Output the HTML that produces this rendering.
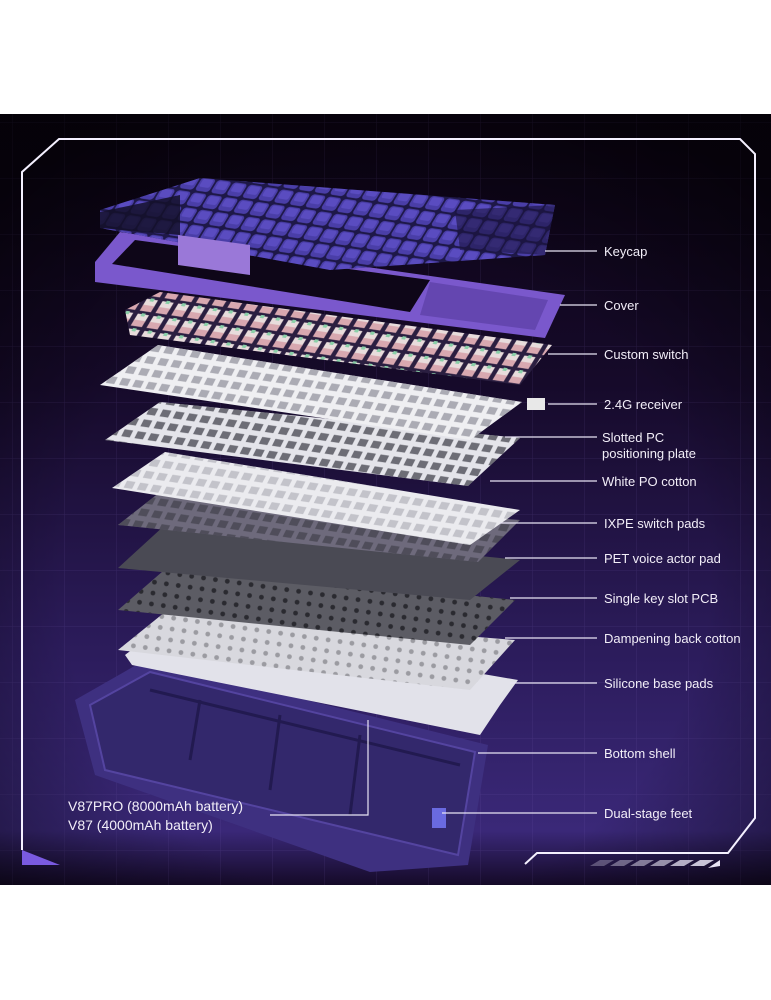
<!DOCTYPE html>
<html><head><meta charset="utf-8"><style>
html,body{margin:0;padding:0;background:#fff;width:771px;height:1000px;overflow:hidden}
svg{display:block}
text{font-family:"Liberation Sans",sans-serif;fill:#f2eef8;font-size:13px}
</style></head><body>
<svg width="771" height="1000" viewBox="0 0 771 1000">
<defs>
<linearGradient id="bg" x1="0" y1="0" x2="0" y2="1">
<stop offset="0" stop-color="#0b0312"/><stop offset="0.35" stop-color="#160a2a"/><stop offset="0.7" stop-color="#2c1c5c"/><stop offset="0.93" stop-color="#3a2878"/><stop offset="1" stop-color="#150a28"/>
</linearGradient>
<radialGradient id="vig" cx="0.5" cy="0.6" r="0.7">
<stop offset="0.6" stop-color="#000" stop-opacity="0"/><stop offset="1" stop-color="#000" stop-opacity="0.55"/>
</radialGradient>
<pattern id="grid" width="52" height="56" patternUnits="userSpaceOnUse" x="12" y="10">
<path d="M0 0H52M0 0V56" stroke="#8a70c8" stroke-opacity="0.18" stroke-width="1" fill="none"/>
</pattern>
<pattern id="holes" width="14" height="12" patternUnits="userSpaceOnUse" patternTransform="skewX(-20) rotate(8)">
<rect x="2" y="2" width="9" height="7" fill="#3a3a44"/>
</pattern>
<pattern id="holesw" width="14" height="12" patternUnits="userSpaceOnUse" patternTransform="skewX(-20) rotate(8)">
<rect x="2" y="2" width="9" height="7" fill="#9a9aa4"/>
</pattern>
<pattern id="dots" width="12" height="11" patternUnits="userSpaceOnUse" patternTransform="rotate(8)">
<circle cx="6" cy="5" r="2.4" fill="#2a2a30"/>
</pattern>
<pattern id="keys" width="17" height="15" patternUnits="userSpaceOnUse" patternTransform="skewX(-25) rotate(8)">
<rect x="1" y="1" width="15" height="13" rx="3" fill="#4a3ea8"/>
<rect x="3" y="2" width="11" height="8" rx="2" fill="#5a4cc0"/>
</pattern>
<pattern id="sw" width="17" height="15" patternUnits="userSpaceOnUse" patternTransform="skewX(-25) rotate(8)">
<rect x="2" y="1" width="12" height="7" fill="#e8dcdc"/>
<rect x="2" y="7" width="12" height="6" fill="#d8a8b0"/>
<rect x="6" y="0" width="4" height="3" fill="#8ad0a8"/>
</pattern>
</defs>
<rect x="0" y="114" width="771" height="771" fill="url(#bg)"/>
<rect x="0" y="114" width="771" height="771" fill="url(#grid)"/>
<rect x="0" y="114" width="771" height="771" fill="url(#vig)"/>
<path d="M22 850 V172 L59 139 H740 L755 154 V818 L728 853 H537 L525 864" fill="none" stroke="#f4f0ff" stroke-width="2"/>
<path d="M22 850 L22 865 L60 865 Z" fill="#7a5ae0"/>
<g fill="#e8e4f4">
<polygon points="590,866 600,860 614,860 604,866" opacity="0.3"/>
<polygon points="610,866 620,860 634,860 624,866" opacity="0.4"/>
<polygon points="630,866 640,860 654,860 644,866" opacity="0.5"/>
<polygon points="650,866 660,860 674,860 664,866" opacity="0.6"/>
<polygon points="670,866 680,860 694,860 684,866" opacity="0.75"/>
<polygon points="690,866 700,860 714,860 704,866" opacity="0.85"/>
<polygon points="708,868 720,860 720,860 720,866" opacity="1"/>
</g>
<!-- bottom shell -->
<polygon points="75,700 145,660 488,745 468,865 370,872 95,775" fill="#3e3080"/>
<polygon points="90,705 150,672 475,752 458,855 105,770" fill="#33286c" stroke="#5444a0" stroke-width="2"/>
<path d="M150 690 L460 765 M200 700 L190 760 M280 715 L270 790 M360 735 L350 815" stroke="#221a50" stroke-width="3" fill="none"/>
<rect x="432" y="808" width="14" height="20" fill="#6a6ae0"/>
<polygon points="125,655 170,620 518,680 500,705 480,735 132,665" fill="#e2e2ea"/>
<polygon points="118,650 165,612 515,640 470,690" fill="#d8d8de"/>
<polygon points="118,650 165,612 515,640 470,690" fill="url(#dots)" opacity="0.35"/>
<polygon points="118,610 170,565 515,600 470,645" fill="#5c5c64"/>
<polygon points="118,610 170,565 515,600 470,645" fill="url(#dots)"/>
<polygon points="118,568 165,525 520,560 470,600" fill="#4a4a54"/>
<polygon points="118,525 160,492 520,520 478,562" fill="#6e6a7c"/>
<polygon points="118,525 160,492 520,520 478,562" fill="url(#holes)" opacity="0.6"/>
<polygon points="112,488 165,452 520,510 470,545" fill="#ebebef"/>
<polygon points="112,488 165,452 520,510 470,545" fill="url(#holesw)" opacity="0.5"/>
<polygon points="105,440 160,402 520,438 468,486" fill="#e4e4ea"/>
<polygon points="105,440 160,402 520,438 468,486" fill="url(#holes)" opacity="0.7"/>
<polygon points="100,385 158,345 522,402 470,440" fill="#efeff2"/>
<polygon points="100,385 158,345 522,402 470,440" fill="url(#holesw)" opacity="0.8"/>
<polygon points="125,310 160,292 552,345 520,385 130,335" fill="#2a1e40"/>
<polygon points="125,310 160,292 552,345 520,385 130,335" fill="url(#sw)"/>
<rect x="527" y="398" width="18" height="12" fill="#e8e8e8"/>
<!-- cover -->
<polygon points="95,262 120,232 565,295 545,338 95,282" fill="#7a58cc"/>
<polygon points="112,264 135,240 430,280 410,312" fill="#0e0618"/>
<polygon points="430,282 548,300 535,330 420,315" fill="#6446b0"/>
<!-- keycaps -->
<polygon points="100,210 200,178 555,205 545,255 330,270 100,228" fill="#1e1848"/>
<polygon points="100,210 200,178 555,205 545,255 330,270 100,228" fill="url(#keys)"/>
<polygon points="100,212 180,195 180,235 100,228" fill="#14102a" opacity="0.85"/>
<polygon points="455,210 555,205 545,255 460,250" fill="#1a1440" opacity="0.6"/>
<polygon points="178,235 250,245 250,275 178,265" fill="#9a78d8"/>
<g stroke="#e8e4f4" stroke-width="1.2" fill="none">
<path d="M545 251H597M560 305H597M548 354H597M548 404H597M505 437H597M490 481H597M500 523H597M505 558H597M510 598H597M505 638H597M510 683H597M478 753H597M442 813H597"/>
<path d="M270 815H368V720"/>
</g>
<text x="604" y="256">Keycap</text>
<text x="604" y="310">Cover</text>
<text x="604" y="359">Custom switch</text>
<text x="604" y="409">2.4G receiver</text>
<text x="602" y="442">Slotted PC</text>
<text x="602" y="458">positioning plate</text>
<text x="602" y="486">White PO cotton</text>
<text x="604" y="528">IXPE switch pads</text>
<text x="604" y="563">PET voice actor pad</text>
<text x="604" y="603">Single key slot PCB</text>
<text x="604" y="643">Dampening back cotton</text>
<text x="604" y="688">Silicone base pads</text>
<text x="604" y="758">Bottom shell</text>
<text x="604" y="818">Dual-stage feet</text>
<text x="68" y="811" style="font-size:14px">V87PRO (8000mAh battery)</text>
<text x="68" y="830" style="font-size:14px">V87 (4000mAh battery)</text>
</svg>
</body></html>
